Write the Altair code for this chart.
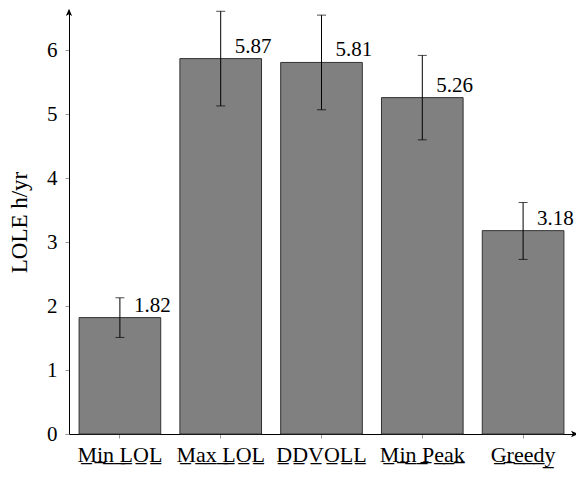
import altair as alt
import pandas as pd

categories = ["Min LOL", "Max LOL", "DDVOLL", "Min Peak", "Greedy"]
values = [1.82, 5.87, 5.81, 5.26, 3.18]
err_low = [1.51, 5.13, 5.07, 4.60, 2.73]
err_high = [2.13, 6.61, 6.55, 5.92, 3.62]
y_ticks = [0, 1, 2, 3, 4, 5, 6]
y_max = 6.63

FONT = "Liberation Serif"

labels = ["".join(ch + "\u0332" for ch in c) for c in categories]
df = pd.DataFrame({
    "cat": labels,
    "val": values,
    "lo": err_low,
    "hi": err_high,
    "txt": [f"{v:.2f}" for v in values],
})

x = alt.X(
    "cat:N", sort=labels,
    scale=alt.Scale(paddingInner=0.19, paddingOuter=0.1),
    axis=alt.Axis(title=None, labelAngle=0, labelFont=FONT, labelFontSize=22,
                  labelColor="black", tickColor="#999999", tickSize=4,
                  domainColor="black", domainWidth=1, labelPadding=6),
)
y_axis = alt.Axis(title="LOLE h/yr", values=y_ticks, format="d", grid=False,
                  labelFont=FONT, labelFontSize=21, labelColor="black",
                  tickColor="#999999", tickSize=4, domainColor="black",
                  domainWidth=1, labelPadding=8,
                  titleFont=FONT, titleFontSize=23, titleFontWeight="normal",
                  titleColor="black", titlePadding=15)
y_scale = alt.Scale(domain=[0, y_max], nice=False, zero=True)

base = alt.Chart(df)

bars = base.mark_bar(color="#808080", stroke="#333333", strokeWidth=1).encode(
    x=x, y=alt.Y("val:Q", scale=y_scale, axis=y_axis)
)
rules = base.mark_rule(color="black", strokeWidth=1).encode(
    x=x, y=alt.Y("lo:Q", scale=y_scale), y2="hi:Q"
)
cap_lo = base.mark_tick(color="black", size=9, thickness=1).encode(
    x=x, y=alt.Y("lo:Q", scale=y_scale)
)
cap_hi = base.mark_tick(color="black", size=9, thickness=1).encode(
    x=x, y=alt.Y("hi:Q", scale=y_scale)
)
texts = base.mark_text(align="left", baseline="alphabetic", dx=14, dy=-6,
                       font=FONT, fontSize=21, color="black").encode(
    x=x, y=alt.Y("val:Q", scale=y_scale), text="txt:N"
)

arrow_data = alt.Data(values=[{"a": 1}])
arrow_up = alt.Chart(arrow_data).mark_point(
    shape="M0,-1 L0.75,0.7 L0,0.3 L-0.75,0.7 Z", filled=True, color="black",
    size=70, opacity=1
).encode(x=alt.value(0), y=alt.value(3))
arrow_right = alt.Chart(arrow_data).mark_point(
    shape="M1,0 L-0.7,0.75 L-0.3,0 L-0.7,-0.75 Z", filled=True, color="black",
    size=70, opacity=1
).encode(x=alt.value(505), y=alt.value(424))

chart = alt.layer(bars, rules, cap_lo, cap_hi, texts, arrow_up, arrow_right).properties(
    width=505, height=424,
    padding={"left": 61, "top": 2, "right": 2, "bottom": 35},
    autosize=alt.AutoSizeParams(type="none"),
    background="white",
).configure_view(stroke=None)

chart.save("out.html", embed_options={"renderer": "svg", "actions": False})
